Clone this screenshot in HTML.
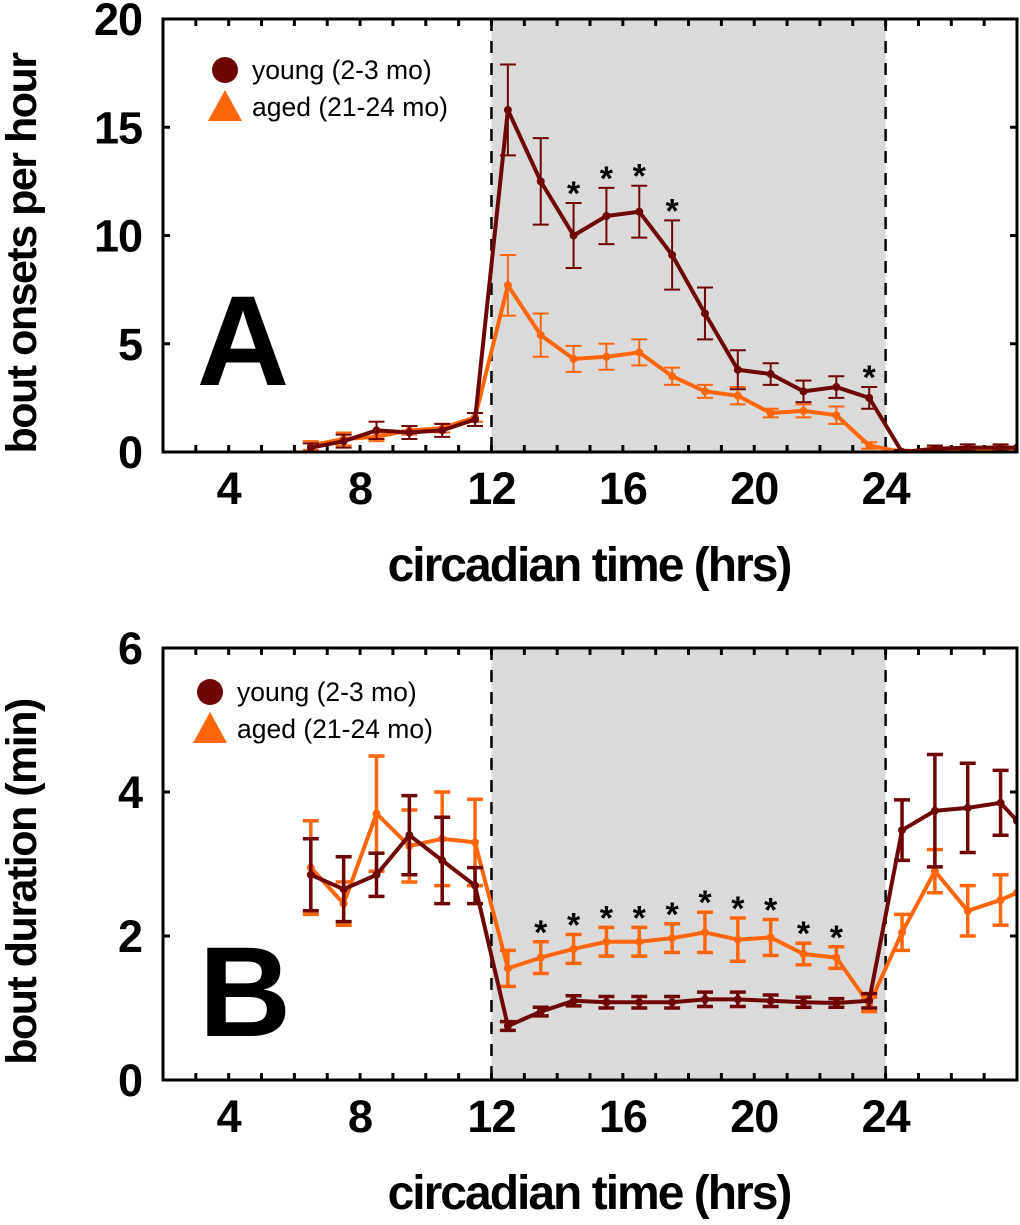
<!DOCTYPE html>
<html><head><meta charset="utf-8"><style>
html,body{margin:0;padding:0;background:#fff;}
svg text{font-family:"Liberation Sans",Arial,sans-serif;}
</style></head><body>
<svg id="fig" width="1020" height="1220" viewBox="0 0 1020 1220" xmlns="http://www.w3.org/2000/svg"></svg>
<script>
const hours=[6.5,7.5,8.5,9.5,10.5,11.5,12.5,13.5,14.5,15.5,16.5,17.5,18.5,19.5,20.5,21.5,22.5,23.5,24.5,25.5,26.5,27.5,28];
const youngA=[0.2,0.5,1.0,0.9,1.0,1.5,15.8,12.5,10.0,10.9,11.1,9.1,6.4,3.8,3.6,2.8,3.0,2.5,0.0,0.15,0.2,0.2,0.2];
const youngAErr=[0.2,0.3,0.4,0.3,0.3,0.3,2.1,2.0,1.5,1.3,1.2,1.6,1.2,0.9,0.5,0.5,0.5,0.5,0.1,0.15,0.15,0.15,0];
const agedA=[0.3,0.6,0.7,1.0,1.1,1.6,7.7,5.4,4.3,4.4,4.6,3.5,2.8,2.6,1.8,1.9,1.7,0.3,0.0,0.1,0.1,0.15,0.15];
const agedAErr=[0.2,0.3,0.2,0.2,0.2,0.2,1.4,1.0,0.6,0.6,0.6,0.4,0.3,0.4,0.2,0.3,0.4,0.15,0.05,0.1,0.1,0.1,0];
const starsA=[14.5,15.5,16.5,17.5,23.5];
const youngB=[2.85,2.65,2.85,3.4,3.05,2.7,0.75,0.95,1.1,1.08,1.08,1.08,1.12,1.12,1.1,1.08,1.07,1.1,3.47,3.74,3.78,3.85,3.6];
const youngBErr=[0.5,0.45,0.3,0.55,0.6,0.25,0.06,0.06,0.07,0.08,0.08,0.08,0.1,0.1,0.08,0.07,0.06,0.1,0.42,0.78,0.62,0.45,0];
const agedB=[2.95,2.45,3.7,3.25,3.35,3.3,1.55,1.7,1.82,1.92,1.92,1.97,2.05,1.95,1.98,1.75,1.7,1.05,2.05,2.9,2.35,2.5,2.6];
const agedBErr=[0.65,0.3,0.8,0.5,0.65,0.6,0.25,0.22,0.2,0.2,0.2,0.2,0.28,0.3,0.25,0.15,0.15,0.1,0.25,0.3,0.35,0.35,0];
const starsB=[13.5,14.5,15.5,16.5,17.5,18.5,19.5,20.5,21.5,22.5];
const xTicks=[4,8,12,16,20,24];
const yTicksA=[0,5,10,15,20];
const yTicksB=[0,2,4,6];

const NS="http://www.w3.org/2000/svg";
const svg=document.getElementById('fig');
function el(tag,attrs,parent){const e=document.createElementNS(NS,tag);for(const k in attrs)e.setAttribute(k,attrs[k]);(parent||svg).appendChild(e);return e;}
const X0=163,X1=1017;
function xs(t){return X0+(t-2)*(X1-X0)/26;}
const YOUNG="#6e0606",AGED="#ff660a";

function panel(cfg){
  const g=el('g',{});
  
  
  const ys=v=>cfg.y0-(v-0)*(cfg.y0-cfg.y1)/cfg.max;
  const sh=el('rect',{x:xs(12),y:cfg.y1,width:xs(24)-xs(12),height:cfg.y0-cfg.y1,fill:'#dadada'},g);
  
  
  [12,24].forEach(t=>{const d=el('line',{x1:xs(t),x2:xs(t),y1:cfg.y1,y2:cfg.y0,stroke:'#000','stroke-width':2.5,'stroke-dasharray':'12,10'},g);
    
    });
  for(let t=3;t<=27;t++){
    el('line',{x1:xs(t),x2:xs(t),y1:cfg.y0,y2:cfg.y0-7,stroke:'#000','stroke-width':3},g);
    el('line',{x1:xs(t),x2:xs(t),y1:cfg.y1,y2:cfg.y1+7,stroke:'#000','stroke-width':3},g);
  }
  cfg.yt.forEach(v=>{el('line',{x1:X0,x2:X0+7,y1:ys(v),y2:ys(v),stroke:'#000','stroke-width':3},g);
    el('line',{x1:X1,x2:X1-7,y1:ys(v),y2:ys(v),stroke:'#000','stroke-width':3},g);
    const tl=el('text',{x:142,y:ys(v)+16,'font-size':45,'font-weight':'bold','text-anchor':'end','letter-spacing':'-1'},g);tl.textContent=v;
    
    });
  xTicks.forEach(t=>{const tl=el('text',{x:xs(t),y:cfg.y0+52,'font-size':45,'font-weight':'bold','text-anchor':'middle','letter-spacing':'-1'},g);tl.textContent=t;
    
    });
  const clip=el('clipPath',{id:'c'+cfg.name},g);el('rect',{x:X0,y:cfg.y1-40,width:X1-X0,height:cfg.y0-cfg.y1+40},clip);
  const sg=el('g',{'clip-path':'url(#c'+cfg.name+')'},g);
  [[cfg.aged,cfg.agedE,AGED,'aged-series'],[cfg.young,cfg.youngE,YOUNG,'young-series']].forEach(([vals,err,col,nm])=>{
    const s=el('g',{},sg);
    
    
    hours.forEach((h,i)=>{if(!err[i])return;const x=xs(h),a=ys(vals[i]+err[i]),b=ys(Math.max(0,vals[i]-err[i]));
      el('line',{x1:x,x2:x,y1:a,y2:b,stroke:col,'stroke-width':cfg.ew},s);
      el('line',{x1:x-8,x2:x+8,y1:a,y2:a,stroke:col,'stroke-width':cfg.ew},s);
      el('line',{x1:x-8,x2:x+8,y1:b,y2:b,stroke:col,'stroke-width':cfg.ew},s);});
    el('polyline',{points:hours.map((h,i)=>xs(h)+','+ys(vals[i])).join(' '),fill:'none',stroke:col,'stroke-width':4,'stroke-linejoin':'round'},s);
    hours.forEach((h,i)=>{el('circle',{cx:xs(h),cy:ys(vals[i]),r:4,fill:col},s);});
  });
  cfg.stars.forEach(h=>{const i=hours.indexOf(h);const top=Math.max(cfg.young[i]+cfg.youngE[i],cfg.aged[i]+cfg.agedE[i]);
    const st=el('text',{x:xs(h),y:ys(top)+2,'font-size':34,'font-weight':'bold','text-anchor':'middle'},g);st.textContent='*';
    
    });
  el('rect',{x:X0,y:cfg.y1,width:X1-X0,height:cfg.y0-cfg.y1,fill:'none',stroke:'#000','stroke-width':3},g);
  const lg=el('g',{},g);
  
  
  el('circle',{cx:cfg.lx,cy:cfg.ly,r:13,fill:YOUNG},lg);
  const t1=el('text',{x:cfg.lx+27,y:cfg.ly+9,'font-size':26.5},lg);t1.textContent='young (2-3 mo)';
  el('polygon',{points:`${cfg.lx-17},${cfg.ly+51} ${cfg.lx+17},${cfg.ly+51} ${cfg.lx},${cfg.ly+20}`,fill:AGED},lg);
  const t2=el('text',{x:cfg.lx+27,y:cfg.ly+46,'font-size':26.5},lg);t2.textContent='aged (21-24 mo)';
  const L=el('text',{x:cfg.letterX,y:cfg.letterY,'font-size':128,'font-weight':'bold','text-anchor':'middle'},g);L.textContent=cfg.letter;
  
  
  const xt=el('text',{x:589,y:cfg.y0+129,'font-size':48,'font-weight':'bold','text-anchor':'middle','letter-spacing':'-2'},g);xt.textContent='circadian time (hrs)';
  
  
  const yt=el('text',{x:0,y:0,'font-size':43,'font-weight':'bold','text-anchor':'middle','letter-spacing':'-1.5',transform:`translate(36,${(cfg.y0+cfg.y1)/2+18}) rotate(-90)`},g);yt.textContent=cfg.ytitle;
  
  
}
panel({name:'panel-a',y0:452,y1:19,max:20,yt:yTicksA,young:youngA,youngE:youngAErr,aged:agedA,agedE:agedAErr,stars:starsA,ew:2,lx:225,ly:70,letter:'A',letterX:243,letterY:385,ytitle:'bout onsets per hour'});
panel({name:'panel-b',y0:1080,y1:648,max:6,yt:yTicksB,young:youngB,youngE:youngBErr,aged:agedB,agedE:agedBErr,stars:starsB,ew:3.5,lx:210,ly:692,letter:'B',letterX:245,letterY:1036,ytitle:'bout duration (min)'});
</script>
</body></html>
